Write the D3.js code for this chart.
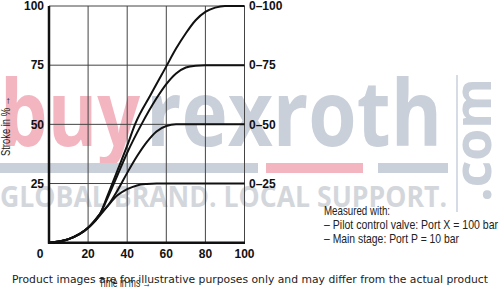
<!DOCTYPE html>
<html>
<head>
<meta charset="utf-8">
<script src="https://cdn.jsdelivr.net/npm/d3@7"></script>
<style>
  body { margin: 0; background: #fff; }
  svg { display: block; }
</style>
</head>
<body>
<div id="chart"></div>
<script>
// tick values
var timeTicks = [20, 40, 60, 80, 100];
var strokeTicks = [25, 50, 75, 100];
var gridTime = [0, 20, 40, 60, 80, 100];
var gridStroke = [0, 25, 50, 75, 100];

// curve labels (end value of each curve)
var rangeLabels = ["0–100", "0–75", "0–50", "0–25"];
var rangeEnds = [100, 75, 50, 25];

// [time ms, stroke %]
var curve100 = [[0,0],[10,1.5],[20,6.3],[26,12],[30,20],[35,30.5],[40,41],[44,50],[52,62.5],[60,74.5],[65,82],[70,88.5],[75,94],[80,97.5],[85,99.3],[90,100],[100,100]];
var curve75 = [[0,0],[10,1.5],[20,6.3],[26,12],[30,19],[35,28.5],[40,38],[47.3,50],[55,61],[60,67],[65,71.5],[70,74],[75,74.8],[80,75],[100,75]];
var curve50 = [[0,0],[10,1.5],[20,6.3],[26,12],[30,15.5],[35,22],[40,29.5],[45,36.5],[50,42.5],[55,47],[60,49.3],[65,50],[100,50]];
var curve25 = [[0,0],[10,1.5],[20,6.3],[26,11.5],[30,15.5],[35,20],[40,22.6],[45,24.2],[50,24.8],[55,25],[100,25]];

var notes = ["Measured with:", "– Pilot control valve: Port X = 100 bar", "– Main stage: Port P = 10 bar"];
var noteWidths = [66, 174, 135];

var W = 499, H = 290;
var svg = d3.select("#chart").append("svg").attr("width", W).attr("height", H);

// watermark (behind chart)
var wm = svg.append("g");
wm.append("text").attr("x", 0).attr("y", 146)
  .attr("font-family", "Open Sans").attr("font-weight", 700).attr("font-size", 92)
  .attr("fill", "#f3b6c0").attr("textLength", 140).attr("lengthAdjust", "spacingAndGlyphs")
  .text("buy");
wm.append("text").attr("x", 146).attr("y", 146)
  .attr("font-family", "Open Sans").attr("font-weight", 700).attr("font-size", 92)
  .attr("fill", "#c9d0da").attr("textLength", 296).attr("lengthAdjust", "spacingAndGlyphs")
  .text("rexroth");
wm.append("rect").attr("x", 0).attr("y", 163).attr("width", 258).attr("height", 10).attr("fill", "#c9d0da");
wm.append("rect").attr("x", 266).attr("y", 163).attr("width", 97).attr("height", 10).attr("fill", "#f3b6c0");
wm.append("rect").attr("x", 378).attr("y", 163).attr("width", 70).attr("height", 10).attr("fill", "#c9d0da");
wm.append("text").attr("x", 0).attr("y", 207)
  .attr("font-family", "Open Sans").attr("font-weight", 700).attr("font-size", 29)
  .attr("fill", "#d3d7dc").attr("textLength", 447).attr("lengthAdjust", "spacingAndGlyphs")
  .text("GLOBAL BRAND. LOCAL SUPPORT.");
wm.append("line").attr("x1", 457).attr("x2", 457).attr("y1", 75).attr("y2", 212)
  .attr("stroke", "#c9d0da").attr("stroke-width", 1.5);
wm.append("text").attr("transform", "translate(491,202) rotate(-90)")
  .attr("font-family", "Open Sans").attr("font-weight", 700).attr("font-size", 52)
  .attr("fill", "#c9d0da").attr("textLength", 124).attr("lengthAdjust", "spacingAndGlyphs")
  .text(".com");

var x = d3.scaleLinear().domain([0, 100]).range([49, 244.5]);
var y = d3.scaleLinear().domain([0, 100]).range([242.7, 6]);

// grid
var g = svg.append("g");
g.selectAll(".vg").data(gridTime).enter().append("line")
  .attr("x1", d => x(d)).attr("x2", d => x(d)).attr("y1", y(0)).attr("y2", y(100))
  .attr("stroke", "#444").attr("stroke-width", 1);
g.selectAll(".hg").data(gridStroke).enter().append("line")
  .attr("x1", x(0)).attr("x2", x(100)).attr("y1", d => y(d)).attr("y2", d => y(d))
  .attr("stroke", "#444").attr("stroke-width", 1);

// axes frame (thick left + bottom)
g.append("line").attr("x1", x(0)).attr("x2", x(0)).attr("y1", y(0) + 1).attr("y2", y(100))
  .attr("stroke", "#111").attr("stroke-width", 2.5);
g.append("line").attr("x1", x(0) - 1).attr("x2", x(100) + 0.5).attr("y1", y(0)).attr("y2", y(0))
  .attr("stroke", "#111").attr("stroke-width", 2.5);

// curves
var line = d3.line().x(d => x(d[0])).y(d => y(d[1])).curve(d3.curveMonotoneX);
[curve100, curve75, curve50, curve25].forEach(c => {
  g.append("path").attr("d", line(c)).attr("fill", "none")
    .attr("stroke", "#111").attr("stroke-width", 2);
});

// tick labels
var lab = { "font-family": "Liberation Sans, Arial, sans-serif", "font-weight": 700, "font-size": 12, "fill": "#111" };
function style(sel, o) { Object.keys(o).forEach(k => sel.attr(k, o[k])); return sel; }

style(g.selectAll(".yl").data(strokeTicks).enter().append("text"), lab)
  .attr("x", 44).attr("y", d => y(d)).attr("dy", "0.35em").attr("text-anchor", "end")
  .text(d => d);
style(g.selectAll(".xl").data(timeTicks).enter().append("text"), lab)
  .attr("x", d => x(d)).attr("y", 258).attr("text-anchor", "middle")
  .text(d => d);
style(g.append("text"), lab).attr("x", 40).attr("y", 258).attr("text-anchor", "middle").text(0);

style(g.selectAll(".rl").data(rangeLabels).enter().append("text"), lab)
  .attr("x", 249).attr("y", (d, i) => y(rangeEnds[i])).attr("dy", "0.35em")
  .text(d => d);

// axis titles (condensed look via textLength)
var narrow = "Liberation Sans, Arial, sans-serif";
g.append("text").attr("transform", "translate(10,156) rotate(-90)")
  .attr("font-family", narrow).attr("font-size", 12).attr("fill", "#222")
  .attr("textLength", 60).attr("lengthAdjust", "spacingAndGlyphs")
  .text("Stroke in % →");
g.append("text").attr("x", 99).attr("y", 287)
  .attr("font-family", narrow).attr("font-size", 12).attr("fill", "#222")
  .attr("textLength", 52).attr("lengthAdjust", "spacingAndGlyphs")
  .text("Time in ms →");

// measurement note
g.selectAll(".note").data(notes).enter().append("text")
  .attr("x", 324).attr("y", (d, i) => 215 + i * 14)
  .attr("font-family", narrow).attr("font-size", 13).attr("fill", "#222")
  .attr("textLength", (d, i) => noteWidths[i]).attr("lengthAdjust", "spacingAndGlyphs")
  .text(d => d);

// disclaimer overlay
svg.append("text").attr("x", 12).attr("y", 283)
  .attr("font-family", "DejaVu Sans, sans-serif").attr("font-size", 11).attr("fill", "#222")
  .attr("textLength", 476).attr("lengthAdjust", "spacingAndGlyphs")
  .text("Product images are for illustrative purposes only and may differ from the actual product");
</script>
</body>
</html>
